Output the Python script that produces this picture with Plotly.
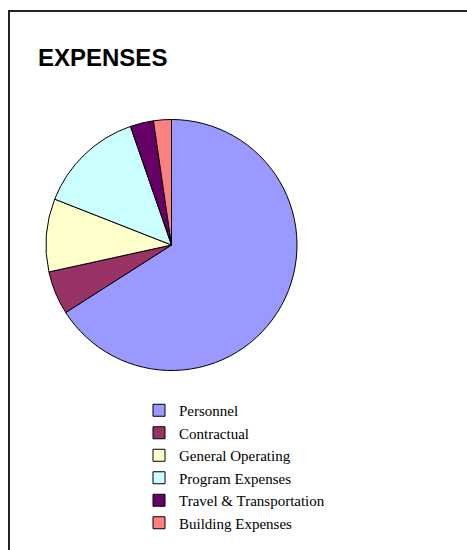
import plotly.graph_objects as go

categories = ["Personnel", "Contractual", "General Operating", "Program Expenses",
              "Travel & Transportation", "Building Expenses"]
values = [65.97, 5.6, 9.4, 13.75, 3.0, 2.3]
colors = ["#9999FF", "#993366", "#FFFFCC", "#CCFFFF", "#660066", "#FF8080"]

W, H = 467, 550

fig = go.Figure(go.Pie(
    labels=categories,
    values=values,
    sort=False,
    direction="clockwise",
    rotation=0,
    marker=dict(colors=colors, line=dict(color="black", width=1)),
    textinfo="none",
    hoverinfo="label+percent",
    domain=dict(x=[46 / W, 297 / W], y=[1 - 370.5 / H, 1 - 119.5 / H]),
))

fig.update_layout(
    width=W, height=H,
    margin=dict(l=0, r=0, t=0, b=0),
    paper_bgcolor="white",
    plot_bgcolor="white",
    showlegend=True,
    legend=dict(
        x=139 / W, xanchor="left",
        y=1 - 394 / H, yanchor="top",
        font=dict(family="Liberation Serif", size=15, color="black"),
        bgcolor="rgba(0,0,0,0)",
        itemclick=False,
    ),
    annotations=[dict(
        text="<b>EXPENSES</b>",
        xref="paper", yref="paper",
        x=36 / W, y=1 - 42 / H,
        xanchor="left", yanchor="top",
        showarrow=False,
        font=dict(family="Liberation Sans", size=24, color="black"),
    )],
    shapes=[dict(
        type="rect", xref="paper", yref="paper",
        x0=9 / W, x1=1.2, y0=-0.2, y1=1 - 11 / H,
        line=dict(color="#222222", width=2),
        fillcolor="rgba(0,0,0,0)",
        layer="below",
    )],
)

fig.write_html("out.html")
